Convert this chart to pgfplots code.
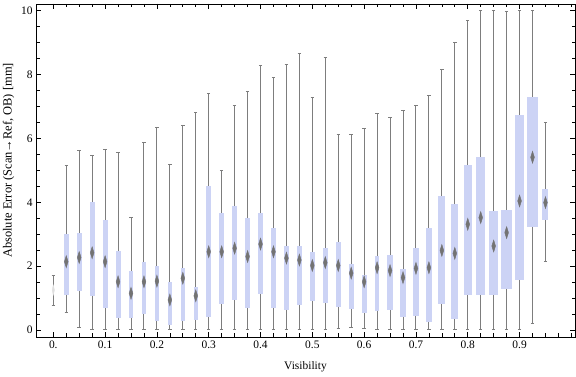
\documentclass[border=0pt]{standalone}
\usepackage{fontspec}
\setmainfont{Liberation Serif}
\usepackage{pgfplots}
\pgfplotsset{compat=1.18}
\usepackage{pgfplotstable}
\usepgfplotslibrary{statistics}

\definecolor{boxblue}{RGB}{204,211,245}
\definecolor{whisk}{RGB}{125,125,125}
\definecolor{medgray}{RGB}{115,115,115}

% x, lower whisker, Q1, median, Q3, upper whisker, box width (px)
\pgfplotstableread{
x     lw    qa    md    qb    uw     w
0.000 0.77  1.14  1.25  1.36  1.70   1
0.025 0.55  1.11  2.14  3.01  5.16   5.3
0.050 0.08  1.23  2.27  3.04  5.63   5
0.075 0.00  1.06  2.42  4.01  5.48   4.7
0.100 0.00  0.70  2.14  3.45  5.66   5
0.125 0.02  0.37  1.51  2.48  5.56   5
0.150 0.00  0.39  1.15  1.84  3.53   3.3
0.175 0.00  0.51  1.51  2.12  5.88   3.3
0.200 0.00  0.29  1.53  2.00  6.35   4.3
0.225 0.00  0.17  0.94  1.50  5.19   3.7
0.250 0.00  0.29  1.62  1.94  6.39   4
0.275 0.00  0.32  1.07  1.35  6.82   4
0.300 0.00  0.42  2.45  4.51  7.42   4.7
0.325 0.02  0.82  2.45  3.67  5.00   5
0.350 0.00  0.95  2.56  3.88  7.04   5
0.375 0.00  0.68  2.30  3.51  7.48   5
0.400 0.00  1.14  2.69  3.66  8.27   5
0.425 0.00  0.70  2.45  3.20  7.92   5.3
0.450 0.00  0.62  2.25  2.62  8.30   5
0.475 0.00  0.77  2.19  2.63  8.67   5
0.500 0.00  0.92  2.02  2.45  7.29   5
0.525 0.02  0.86  2.11  2.57  8.52   5
0.550 0.05  0.73  2.02  2.76  6.13   5.3
0.575 0.09  0.67  1.78  2.07  6.13   5
0.600 0.05  0.54  1.51  1.72  6.32   5
0.625 0.00  0.61  1.95  2.32  6.79   4.5
0.650 0.00  0.64  1.86  2.35  6.67   5.5
0.675 0.00  0.42  1.64  1.91  6.86   5.7
0.700 0.00  0.45  1.93  2.57  7.04   6
0.725 0.00  0.26  1.95  3.20  7.35   6
0.750 0.00  0.82  2.49  4.20  8.17   7
0.775 0.00  0.35  2.40  3.95  8.99   7
0.800 0.00  1.08  3.31  5.17  9.68   8
0.825 0.00  1.11  3.52  5.42  10.00  9
0.850 0.00  1.11  2.63  3.72  10.00  9
0.875 0.00  1.29  3.05  3.76  9.96   10.7
0.900 0.02  1.55  4.04  6.74  10.00  9.7
0.925 0.21  3.21  5.41  7.30  10.00  10.7
0.950 2.15  3.43  3.99  4.42  6.50   6
}\data

\begin{document}
\begin{tikzpicture}
\path[use as bounding box] (0,0) rectangle (576bp,377bp);
\begin{axis}[
  at={(36bp,40bp)}, anchor=south west,
  scale only axis, width=539bp, height=333bp,
  xmin=-0.0334, xmax=1.007, ymin=-0.22, ymax=10.21,
  xtick={0,0.1,0.2,0.3,0.4,0.5,0.6,0.7,0.8,0.9},
  xticklabels={0.,0.1,0.2,0.3,0.4,0.5,0.6,0.7,0.8,0.9},
  minor xtick={0,0.025,...,1.0},
  ytick={0,2,4,6,8,10},
  yticklabels={0,2,4,6,8,10},
  minor y tick num=3,
  tick align=inside,
  major tick length=5bp, minor tick length=3.5bp,
  axis line style={line width=0.8bp},
  every tick/.style={black, line width=0.7bp},
  tick label style={font=\fontsize{11.5}{13}\selectfont},
  xlabel style={font=\fontsize{11.5}{13}\selectfont, yshift=-6bp},
  ylabel style={font=\fontsize{12.5}{14}\selectfont, at={(ticklabel cs:0.53)}},
  xlabel={Visibility},
  ylabel={Absolute Error (Scan→Ref, OB) [mm]},
  boxplot/draw direction=y,
  boxplot/every box/.style={draw=none, fill=boxblue},
  boxplot/every whisker/.style={draw=whisk, line width=1bp},
  boxplot/every median/.style={draw=none},
]
\pgfplotstablegetrowsof{\data}
\pgfmathtruncatemacro\nrows{\pgfplotsretval-1}
\pgfplotsforeachungrouped \i in {0,...,\nrows}{
  \pgfplotstablegetelem{\i}{x}\of\data \let\bx\pgfplotsretval
  \pgfplotstablegetelem{\i}{lw}\of\data \let\blw\pgfplotsretval
  \pgfplotstablegetelem{\i}{qa}\of\data \let\bqa\pgfplotsretval
  \pgfplotstablegetelem{\i}{md}\of\data \let\bmd\pgfplotsretval
  \pgfplotstablegetelem{\i}{qb}\of\data \let\bqb\pgfplotsretval
  \pgfplotstablegetelem{\i}{uw}\of\data \let\buw\pgfplotsretval
  \pgfplotstablegetelem{\i}{w}\of\data \let\bw\pgfplotsretval
  \pgfmathsetmacro\bext{\bw/518}
  \edef\tmp{\noexpand\addplot[draw=whisk, fill=boxblue,
    boxplot prepared={draw position=\bx, lower whisker=\blw,
      lower quartile=\bqa, median=\bmd, upper quartile=\bqb,
      upper whisker=\buw, box extend=\bext, whisker extend=0.0066}]
    coordinates {};}
  \tmp
}
\addplot[only marks, color=medgray, mark=diamond*, mark size=6bp,
  mark options={xscale=0.42, fill=medgray, draw=none},
  skip coords between index={0}{1}]
  table[x=x, y=md]{\data};
\addplot[only marks, color=gray!25, mark=diamond*, mark size=5bp,
  mark options={xscale=0.3, fill=gray!25, draw=none}]
  coordinates {(0,1.25)};
\end{axis}
\end{tikzpicture}
\end{document}
